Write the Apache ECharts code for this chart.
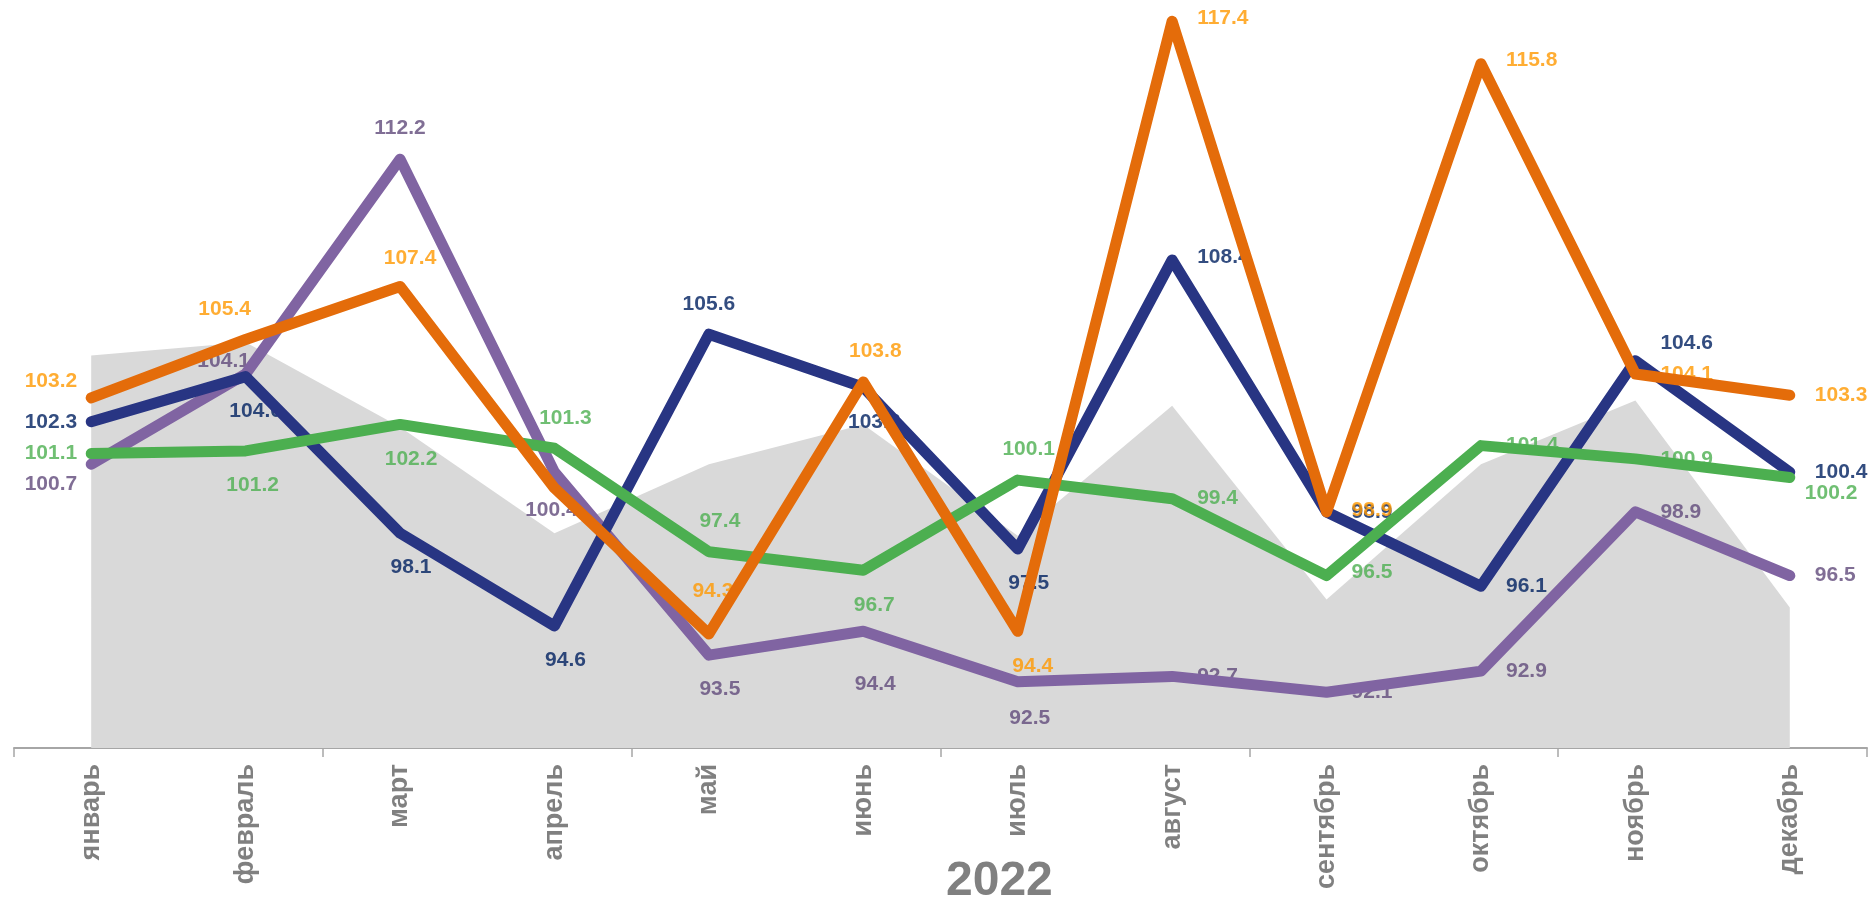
<!DOCTYPE html>
<html>
<head>
<meta charset="utf-8">
<script src="https://cdn.jsdelivr.net/npm/echarts@6/dist/echarts.min.js"></script>
<style>
  html, body { margin: 0; padding: 0; background: #fff; }
  #chart { width: 1873px; height: 900px; }
</style>
</head>
<body>
<div id="chart"></div>
<script>
// данные
const months = ['январь', 'февраль', 'март', 'апрель', 'май', 'июнь', 'июль', 'август', 'сентябрь', 'октябрь', 'ноябрь', 'декабрь'];
const yearLabel = '2022';
const backArea = [104.8, 105.3, 102.1, 98.1, 100.7, 102.2, 98.0, 102.9, 95.6, 100.7, 103.1, 95.3];
const navyVals = [102.3, 104.0, 98.1, 94.6, 105.6, 103.6, 97.5, 108.4, 98.9, 96.1, 104.6, 100.4];
const orangeVals = [103.2, 105.4, 107.4, 99.8, 94.3, 103.8, 94.4, 117.4, 98.9, 115.8, 104.1, 103.3];
const greenVals = [101.1, 101.2, 102.2, 101.3, 97.4, 96.7, 100.1, 99.4, 96.5, 101.4, 100.9, 100.2];
const purpleVals = [100.7, 104.1, 112.2, 100.4, 93.5, 94.4, 92.5, 92.7, 92.1, 92.9, 98.9, 96.5];

// раскладка подписей: [позиция, dx, dy]
const navyPos = [['l',0,0],['b',10,0],['b',11,0],['b',11,0],['t',0,0],['b',11,0],['b',11,0],['r',0,-3],['r',0,0],['r',0,0],['r',0,-18],['r',0,0]];
const orangePos = [['l',0,-17],['t',-21,0],['t',10,2],['-'],['t',4,-12],['t',12,0],['b',15,0],['r',0,-3],['r',0,-2],['r',0,-3],['r',0,0],['r',0,0]];
const greenPos = [['l',0,0],['b',7,0],['b',11,0],['t',11,0],['t',11,0],['b',11,0],['t',11,0],['r',0,0],['r',0,-3],['r',0,0],['r',0,0],['r',-10,16]];
const purplePos = [['l',0,20],['i',-22,-13],['t',0,0],['b',-3,4],['b',11,0],['b',12,18],['b',12,2],['r',0,0],['r',0,0],['r',0,0],['r',0,0],['r',0,0]];

const posMap = { l: 'left', r: 'right', t: 'top', b: 'bottom', i: 'inside' };
const distMap = { l: 9, r: 20, t: 15, b: 19, i: 0 };

function labelled(vals, layout, color) {
  return vals.map((v, i) => {
    const p = layout[i];
    if (p[0] === '-') return { value: v, label: { show: false } };
    return {
      value: v,
      label: {
        show: true,
        position: posMap[p[0]],
        distance: distMap[p[0]],
        offset: [p[1], p[2]],
        color: color
      }
    };
  });
}

const FONT = 'Arial, "Liberation Sans", sans-serif';

function lineSeries(vals, color, z) {
  return {
    type: 'line', data: vals, z: z,
    symbol: 'none', silent: true,
    lineStyle: { color: color, width: 11, cap: 'round', join: 'round' }
  };
}
// подписи лежат под линиями, как в оригинале
function labelSeries(vals, layout, color) {
  return {
    type: 'scatter', data: labelled(vals, layout, color), z: 2,
    symbol: 'circle', symbolSize: 10, silent: true,
    itemStyle: { color: 'rgba(0,0,0,0)' },
    label: {
      show: true, fontFamily: FONT, fontWeight: 'bold', fontSize: 21,
      formatter: p => p.value.toFixed(1)
    }
  };
}

const chart = echarts.init(document.getElementById('chart'));
chart.setOption({
  animation: false,
  backgroundColor: '#ffffff',
  grid: { left: 14, right: 6, top: 0, bottom: 152 },
  xAxis: {
    type: 'category',
    data: months,
    boundaryGap: true,
    axisLine: { lineStyle: { color: '#a6a6a6', width: 2 } },
    axisTick: { show: true, interval: idx => idx % 2 === 0, length: 9, lineStyle: { color: '#a6a6a6', width: 1.5 } },
    axisLabel: {
      rotate: 90, margin: 16, interval: 0,
      color: '#808080', fontFamily: FONT, fontWeight: 'bold', fontSize: 27
    }
  },
  yAxis: {
    type: 'value', min: 90, max: 118.2, show: false,
    splitLine: { show: false }
  },
  graphic: [{
    type: 'text', left: 946, top: 858,
    style: { text: yearLabel, fill: '#808080', font: 'bold 48px ' + FONT }
  }],
  series: [
    {
      type: 'line', data: backArea, z: 1, symbol: 'none', silent: true,
      lineStyle: { width: 0 },
      areaStyle: { color: '#d9d9d9', opacity: 1, origin: 'start' }
    },
    labelSeries(purpleVals, purplePos, '#604a7b'),
    labelSeries(navyVals, navyPos, '#002060'),
    labelSeries(greenVals, greenPos, '#4caf50'),
    labelSeries(orangeVals, orangePos, '#ff9900'),
    lineSeries(purpleVals, '#8064a2', 3),
    lineSeries(navyVals, '#283583', 4),
    lineSeries(greenVals, '#4caf50', 5),
    lineSeries(orangeVals, '#e46c0a', 6)
  ]
});
window.onresize = () => chart.resize();
</script>
</body>
</html>
